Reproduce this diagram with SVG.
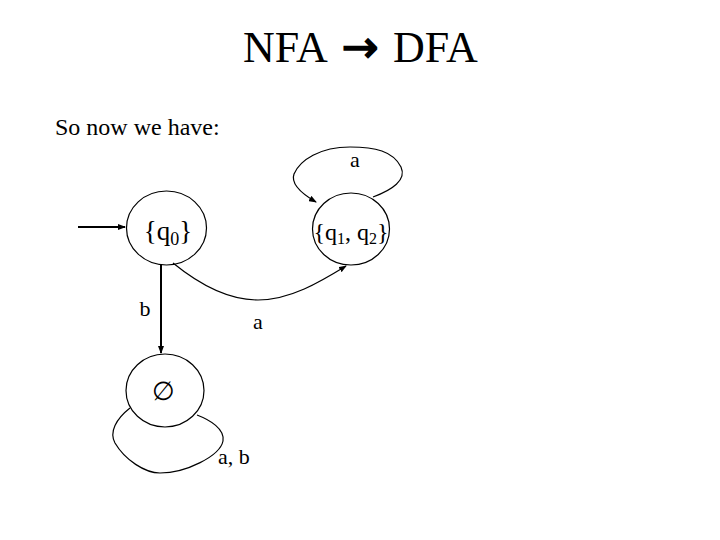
<svg xmlns="http://www.w3.org/2000/svg" width="720" height="540" viewBox="0 0 720 540">
<style>
.t{font-family:"Liberation Serif","Times New Roman",serif;fill:#000}
.node{fill:none;stroke:#000;stroke-width:1.2}
.edge{fill:none;stroke:#000;stroke-width:1.2}
.thick{stroke-width:2}
</style>
<defs>
<marker id="ah" markerWidth="8" markerHeight="6" refX="7" refY="3" orient="auto" markerUnits="userSpaceOnUse">
<path d="M0,0 L8,3 L0,6 Z" fill="#000"/>
</marker>
</defs>
<rect width="720" height="540" fill="#fff"/>
<text class="t" x="243" y="62" font-size="44">NFA</text>
<text x="360" y="62" font-size="44" text-anchor="middle" stroke="#000" stroke-width="1.5" style="font-family:'DejaVu Sans',sans-serif">→</text>
<text class="t" x="393" y="62" font-size="44">DFA</text>
<text class="t" x="55" y="135" font-size="24">So now we have:</text>
<g id="connectors">
<path class="edge thick" d="M78,227 L125,227" marker-end="url(#ah)"/>
<path class="edge thick" d="M161,265 L161,353" marker-end="url(#ah)"/>
<path class="edge" d="M173,263 C200,285 230,300 258,300 C290,300 320,282 346,266" marker-end="url(#ah)"/>
<path class="edge" d="M373,197 C392,190 407,180 401,167 C393,151 375,147 350,147 C320,147 300,160 294,174 C290,185 304,195 316,202" marker-end="url(#ah)"/>
<path class="edge" d="M130,408 C116,419 109,432 115,443 C125,460 145,473 160,473 C186,473 220,456 223,441 C225,429 210,420 197,415"/>
<text class="t" x="355" y="167" font-size="22" text-anchor="middle">a</text>
<text class="t" x="145" y="316" font-size="22" text-anchor="middle">b</text>
<text class="t" x="258" y="329" font-size="22" text-anchor="middle">a</text>
<text class="t" x="218" y="464" font-size="22">a, b</text>
</g>
<g id="q0">
<ellipse class="node" cx="166.5" cy="228" rx="40" ry="37"/>
<text class="t" x="168" y="240" font-size="27" text-anchor="middle">{q<tspan font-size="18" dy="5">0</tspan><tspan dy="-5">}</tspan></text>
</g>
<g id="q1q2">
<ellipse class="node" cx="351" cy="229" rx="38.5" ry="36"/>
<text class="t" x="351" y="240" font-size="24" text-anchor="middle">{q<tspan font-size="16" dy="4">1</tspan><tspan dy="-4">, q</tspan><tspan font-size="16" dy="4">2</tspan><tspan dy="-4">}</tspan></text>
</g>
<g id="empty">
<ellipse class="node" cx="165" cy="390.5" rx="39" ry="36.5"/>
<text class="t" x="163" y="400" font-size="26" text-anchor="middle">∅</text>
</g>
</svg>
